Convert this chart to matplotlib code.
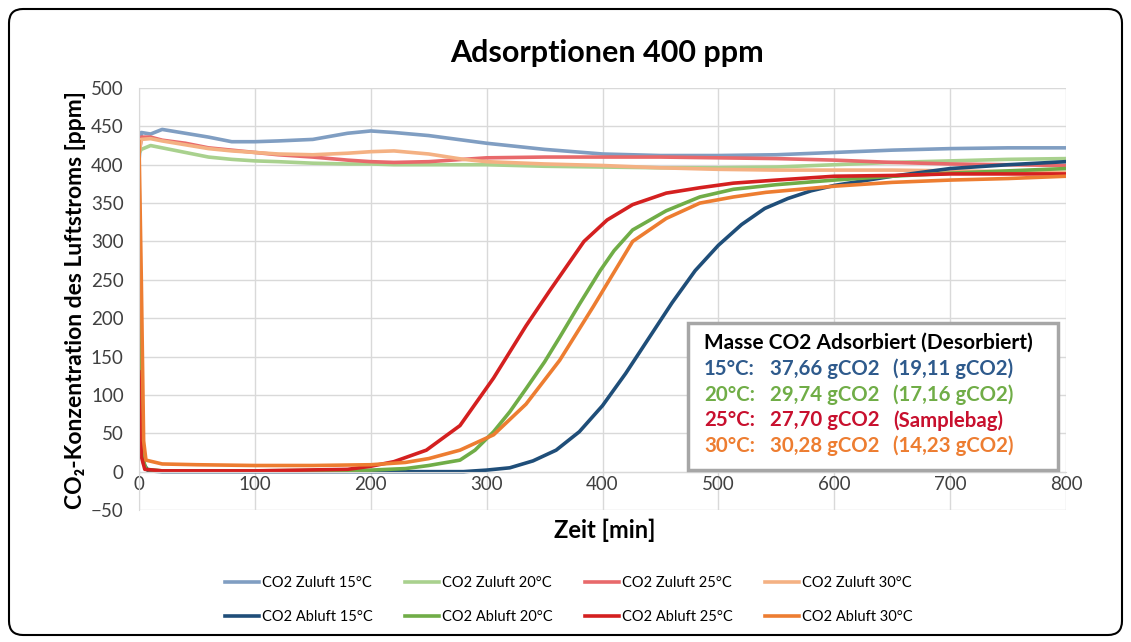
import matplotlib
matplotlib.use("Agg")
import matplotlib.pyplot as plt
from matplotlib.patches import FancyBboxPatch, Rectangle

plt.rcParams['font.family'] = ['Lato', 'DejaVu Sans']

# supply air (Zuluft), common time grid [min]
zu_t = [0, 2, 10, 20, 40, 60, 80, 100, 120, 150, 180, 200, 220, 250, 280, 300,
        350, 400, 450, 500, 550, 600, 650, 700, 750, 800]
zu15 = [405, 442, 440, 446, 441, 436, 430, 430, 431, 433, 441, 444, 442, 438, 432, 428,
        420, 414, 412, 412, 413, 416, 419, 421, 422, 422]
zu20 = [415, 420, 425, 422, 416, 410, 407, 405, 404, 402, 401, 401, 400, 400, 400, 400,
        398, 397, 396, 396, 397, 400, 403, 405, 407, 408]
zu25 = [415, 436, 436, 432, 428, 422, 419, 416, 413, 410, 406, 404, 403, 404, 407, 409,
        410, 410, 410, 409, 408, 406, 403, 401, 400, 399]
zu30 = [415, 433, 434, 431, 426, 421, 418, 416, 414, 413, 415, 417, 418, 414, 407, 404,
        401, 399, 396, 394, 393, 393, 393, 392, 391, 390]

# exhaust air (Abluft)
ab15_t = [0, 1, 4, 8, 20, 100, 200, 280, 300, 320, 340, 360, 380, 400, 420, 440, 460,
          480, 500, 520, 540, 560, 580, 600, 650, 700, 750, 800]
ab15 = [405, 200, 10, 1, 0, 0, 0, 0, 2, 5, 14, 28, 52, 86, 128, 174, 220,
        262, 295, 322, 343, 356, 366, 373, 385, 395, 400, 404]
ab20_t = [0, 1, 3, 6, 20, 100, 200, 230, 250, 277, 290, 306, 320, 334, 350, 363, 380,
          398, 410, 426, 455, 484, 513, 550, 600, 650, 700, 750, 800]
ab20 = [300, 150, 20, 3, 1, 1, 2, 4, 8, 15, 28, 52, 78, 108, 143, 175, 218,
        262, 288, 315, 340, 358, 368, 374, 380, 385, 389, 392, 395]
ab25_t = [0, 2, 5, 20, 100, 180, 200, 220, 248, 277, 306, 334, 355, 384, 404, 426,
          455, 484, 513, 550, 600, 650, 700, 800]
ab25 = [130, 20, 3, 1, 1, 3, 7, 13, 28, 60, 122, 190, 237, 300, 328, 348,
        363, 370, 376, 380, 385, 386, 388, 388]
ab30_t = [0, 2, 4, 6, 20, 50, 100, 150, 200, 230, 250, 277, 306, 334, 363, 392, 426,
          455, 484, 513, 541, 600, 650, 700, 750, 800]
ab30 = [430, 250, 40, 15, 10, 9, 8, 8, 9, 12, 17, 28, 48, 88, 145, 215, 300,
        330, 350, 358, 364, 372, 377, 380, 382, 385]

masse_rows = [
    ("15°C:", "37,66 gCO2", "(19,11 gCO2)", "#2E5A8C"),
    ("20°C:", "29,74 gCO2", "(17,16 gCO2)", "#70AD47"),
    ("25°C:", "27,70 gCO2", "(Samplebag)", "#C8102E"),
    ("30°C:", "30,28 gCO2", "(14,23 gCO2)", "#ED7D31"),
]

W, H = 1131, 642
fig = plt.figure(figsize=(W / 100, H / 100), dpi=100)
ax = fig.add_axes([139 / W, 1 - 510 / H, (1066 - 139) / W, (510 - 88) / H])

lw = 2.6
series = [
    (zu_t, zu15, '#809EC2', 'CO2 Zuluft 15°C'),
    (zu_t, zu20, '#A9D18E', 'CO2 Zuluft 20°C'),
    (zu_t, zu25, '#E8696B', 'CO2 Zuluft 25°C'),
    (zu_t, zu30, '#F4B183', 'CO2 Zuluft 30°C'),
    (ab15_t, ab15, '#1F4E79', 'CO2 Abluft 15°C'),
    (ab20_t, ab20, '#70AD47', 'CO2 Abluft 20°C'),
    (ab25_t, ab25, '#D42020', 'CO2 Abluft 25°C'),
    (ab30_t, ab30, '#ED7D31', 'CO2 Abluft 30°C'),
]
handles = []
for t, v, c, lab in series:
    h, = ax.plot(t, v, color=c, lw=lw, label=lab, solid_joinstyle='round')
    handles.append(h)

ax.set_xlim(0, 800)
ax.set_ylim(-50, 500)
ax.set_xticks(range(0, 801, 100))
ax.set_yticks(range(-50, 501, 50))
ax.grid(True, color='#D9D9D9', lw=1)
ax.set_axisbelow(True)
for s in ['top', 'right']:
    ax.spines[s].set_visible(False)
ax.spines['left'].set_color('#D9D9D9')
ax.spines['bottom'].set_color('#D9D9D9')
ax.spines['bottom'].set_position(('data', 0))
ax.tick_params(length=0, labelsize=13.5, colors='#404040')
ax.tick_params(axis='x', pad=3)
ax.tick_params(axis='y', pad=11)

fig.text(607 / W, 1 - 53 / H, 'Adsorptionen 400 ppm', ha='center', va='center',
         fontsize=22, fontweight='bold')
fig.text(605 / W, 1 - 530 / H, 'Zeit [min]', ha='center', va='center',
         fontsize=17, fontweight='bold')
fig.text(75 / W, 1 - 300 / H, 'CO₂-Konzentration des Luftstroms [ppm]', ha='center',
         va='center', rotation=90, fontsize=16.5, fontweight='bold')

# annotation box
fig.patches.append(Rectangle((688 / W, 1 - 470 / H), (1058 - 688) / W, (470 - 323) / H,
                             transform=fig.transFigure, facecolor='white',
                             edgecolor='#A6A6A6', lw=2.5, zorder=5))
fig.text(704 / W, 1 - 343 / H, 'Masse CO2 Adsorbiert (Desorbiert)', ha='left',
         va='center', fontsize=15, fontweight='bold', zorder=6)
for i, (a, b, c, col) in enumerate(masse_rows):
    y = 1 - (369 + i * 25.7) / H
    fig.text(704 / W, y, a, color=col, fontsize=14.7, fontweight='bold', va='center', zorder=6)
    fig.text(770 / W, y, b, color=col, fontsize=14.7, fontweight='bold', va='center', zorder=6)
    fig.text(893 / W, y, c, color=col, fontsize=14.7, fontweight='bold', va='center', zorder=6)

order = [0, 4, 1, 5, 2, 6, 3, 7]
fig.legend([handles[i] for i in order], [series[i][3] for i in order], ncol=4,
           loc='center', bbox_to_anchor=(569 / W, 1 - 600 / H), frameon=False,
           fontsize=10.5, handlelength=2.3, handletextpad=0.25, columnspacing=2.2,
           labelspacing=1.35)

fig.patches.append(FancyBboxPatch((9, 7), W - 18, H - 16, transform=None,
                                  boxstyle='round,pad=0,rounding_size=14',
                                  facecolor='none', edgecolor='black', lw=1.5))

fig.savefig('out.png', dpi=100)
